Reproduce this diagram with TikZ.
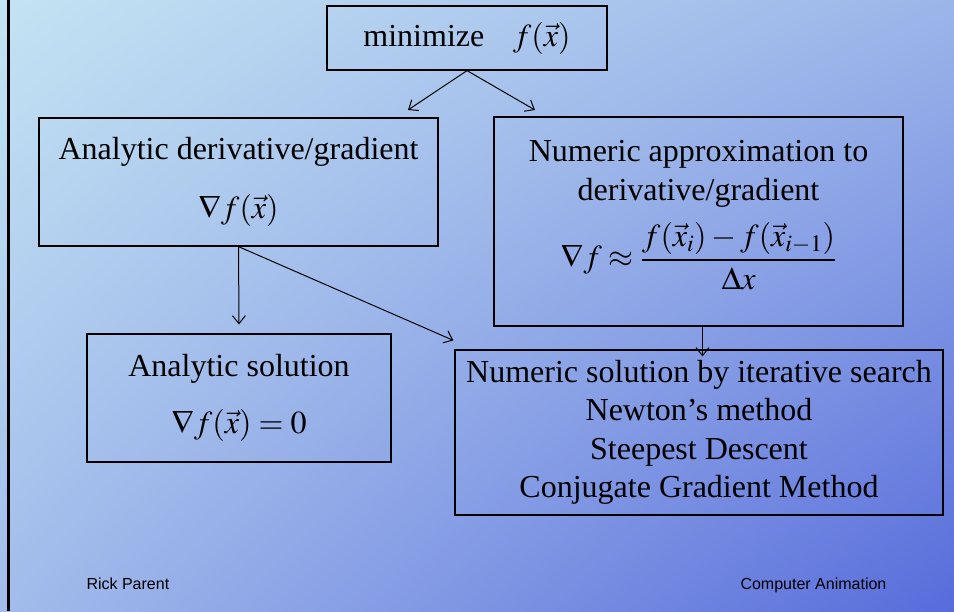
\documentclass[tikz,border=0pt]{standalone}
\usepackage{mathptmx}
\usepackage[no-math]{fontspec}
\setmainfont{Liberation Serif}
\newfontfamily\footfont{Liberation Sans}
\usepackage{tikz}
\usetikzlibrary{arrows.meta,positioning,calc,shadings}
\definecolor{bgtl}{HTML}{C4E3F3}
\definecolor{bgtr}{HTML}{9CB5E9}
\definecolor{bgbl}{HTML}{A2BCEB}
\definecolor{bgbr}{HTML}{586CDB}

\begin{document}
\begin{tikzpicture}[
          x=1pt,y=-1pt,
          every node/.style={font=\fontsize{32}{38.5}\selectfont},
          box/.style={draw,line width=1.2pt,align=center,inner sep=0pt},
          arr/.style={-{Straight Barb[length=8pt,width=13pt]},line width=1pt},
          foot/.style={font=\footfont\fontsize{16}{19}\selectfont,anchor=base west},
      ]
        % slide background and left rule
        \shade[upper left=bgtl,upper right=bgtr,lower left=bgbl,lower right=bgbr]
          (0,0) rectangle (954,611);
        \useasboundingbox (0,0) rectangle (954,611);
        \draw[line width=3pt] (8.5,0) -- (8.5,611);

        \node[box,minimum width=280pt,minimum height=64pt] (min) at (467,38)
          {minimize\hspace{0.9em}$f(\vec{x})$};
        \node[box,minimum width=399pt,minimum height=128pt] (ad) at (238.5,182)
          {Analytic derivative/gradient\\[20pt]
           $\nabla f(\vec{x})$};
        \node[box,minimum width=409pt,minimum height=209pt] (na) at (698.5,221.5)
          {Numeric approximation to\\
           derivative/gradient\\[14pt]
           $\displaystyle\nabla f\approx\frac{f(\vec{x}_i)-f(\vec{x}_{i-1})}{\Delta x}$\\[-4pt]};
        \node[box,minimum width=304pt,minimum height=128pt] (as) at (239,398)
          {Analytic solution\\[19pt]
           $\nabla f(\vec{x})=0$};
        \node[box,minimum width=488pt,minimum height=165pt] (ns) at (699,432.5)
          {Numeric solution by iterative search\\
           Newton's method\\
           Steepest Descent\\
           Conjugate Gradient Method};

        \coordinate (ad-in) at (408,110);
        \coordinate (na-in) at (535,110);
        \draw[arr] (min.south) -- (ad-in);
        \draw[arr] (min.south) -- (na-in);
        \draw[arr] (ad.south) -- ([yshift=9pt]as.north);
        \draw[arr] (ad.south) -- ([shift={(-1pt,9pt)}]ns.north west);
        \draw[arr] ([xshift=4pt]na.south) -- ([shift={(4pt,-7pt)}]na.south |- ns.north);

        \node[foot] (author) at (83,589) {Rick Parent};
        \node[foot] (course) at (737,589) {Computer Animation};
      \end{tikzpicture}
\end{document}
